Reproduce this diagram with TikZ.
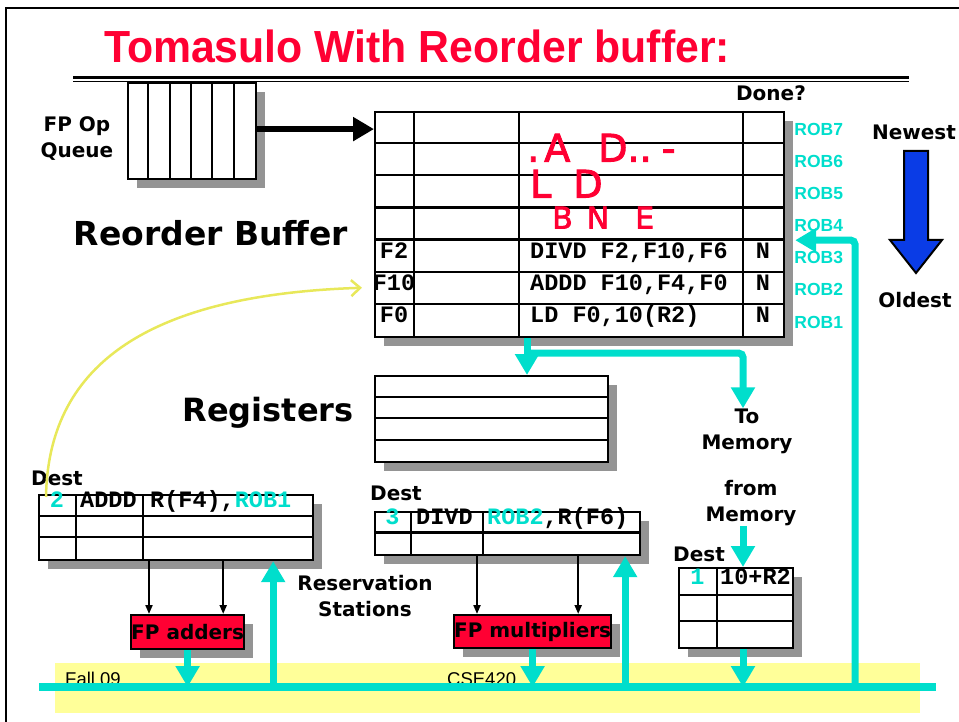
\documentclass[tikz,border=0pt]{standalone}
\usepackage{fontspec}
\setmainfont{DejaVu Sans}
\newfontfamily\codefont{Liberation Mono}
\newfontfamily\arialfont{Liberation Sans}
\newfontfamily\penfont{DejaVu Sans}[FakeBold=2.5]
\usetikzlibrary{arrows.meta,calc,shadows}
\definecolor{SlideRed}{RGB}{255,0,51}
\definecolor{BusCyan}{RGB}{0,222,204}
\definecolor{ShadowGrey}{RGB}{148,148,148}
\definecolor{FooterYellow}{RGB}{255,255,153}
\definecolor{CurveYellow}{RGB}{232,232,90}
\definecolor{OrderBlue}{RGB}{10,60,230}

\begin{document}
\begin{tikzpicture}[x=1pt, y=-1pt, every node/.style={inner sep=0pt},
  comic/.style={font=\fontsize{20}{26}\selectfont\bfseries, align=center},
  bigcomic/.style={font=\fontsize{32}{38}\selectfont\bfseries, anchor=base},
  mono/.style={font=\fontsize{23.5}{28}\selectfont\codefont\bfseries, text height=0.57em, text depth=0pt},
  robtag/.style={font=\fontsize{17.5}{20}\selectfont\arialfont\bfseries, text=BusCyan, anchor=west},
  scrawl/.style={font=\fontsize{38}{40}\selectfont\penfont, text=SlideRed, anchor=west,
    text height=0.72em, text depth=0pt},
  footer/.style={font=\fontsize{18.5}{20}\selectfont\arialfont, anchor=base west},
  tbl/.style={draw, line width=2.2pt, fill=white, anchor=north west,
    drop shadow={shadow xshift=9pt, shadow yshift=-9pt, fill=ShadowGrey, opacity=1}},
  fubox/.style={tbl, fill=SlideRed, font=\fontsize{20}{24}\selectfont\bfseries},
  cellrule/.style={line width=2.2pt},
  buswire/.style={BusCyan, line width=8pt},
  cyanarrow/.style={BusCyan, line width=7pt, -{Triangle[width=23pt,length=21pt]}},
  fuarrow/.style={line width=2pt, -{Triangle[width=7pt,length=9pt]}}]
  \useasboundingbox (0,0) rectangle (959,722);

  \fill[FooterYellow] (55,663) rectangle (920,713);
  \node[footer] (term) at (65,685) {Fall 09};
  \node[footer] (course) at (447,685) {CSE420};
  \draw[line width=2pt] (6,722) -- (6,8) -- (959,8);

  \node[font=\fontsize{45}{50}\selectfont\arialfont\bfseries, text=SlideRed] (title) at (417,46)
    {\scalebox{0.95}[1]{Tomasulo With Reorder buffer:}};
  \draw[line width=3pt] (73,77.5) -- (909,77.5);
  \draw[line width=1.2pt] (73,81.5) -- (909,81.5);

  \node[tbl, minimum width=128pt, minimum height=96pt] (queue) at (127,82) {};
  \foreach \k in {1,...,5}
    \draw[cellrule] ($(queue.north west)+(\k*21.33,0)$) -- ++(0,96);
  \node[comic] (queuelabel) at (77,139) {FP Op\\Queue};

  \node[tbl, minimum width=409pt, minimum height=225pt] (rob) at (374,111) {};
  \foreach \r in {1,...,6}
    \draw[cellrule] ($(rob.north west)+(0,\r*32.14)$) -- ++(409,0);
  \foreach \c in {40,145,369}
    \draw[cellrule] ($(rob.north west)+(\c,0)$) -- ++(0,225);
  \node[comic, anchor=base] (done) at (771,101) {Done?};
  \foreach \n [count=\i] in {7,6,5,4,3,2,1}
    \node[robtag] (rob\n) at ($(rob.north east)+(9,\i*32.14-14)$) {ROB\n};
  \foreach \d/\ins/\r in {F2/{DIVD F2,F10,F6}/5, F10/{ADDD F10,F4,F0}/6, F0/{LD F0,10(R2)}/7} {
    \node[mono] (d\d) at ($(rob.north west)+(20,\r*32.14-16.07)$) {\d};
    \node[mono, anchor=west] (i\d) at ($(rob.north west)+(156,\r*32.14-16.07)$) {\ins};
    \node[mono] (n\d) at ($(rob.north west)+(389,\r*32.14-16.07)$) {N};
  }
  \node[scrawl] (scrawlA) at (527,158) {.\kern5pt A\kern28pt D..\kern10pt-};
  \node[scrawl] (scrawlB) at (530,194) {L\kern22pt D};
  \node[scrawl, font=\fontsize{30}{32}\selectfont\penfont] (scrawlC) at (552,225) {B\kern14pt N\kern26pt E};

  \draw[line width=6.5pt, -{Triangle[width=23pt,length=21pt]}] ([yshift=2pt]queue.east) -- ([yshift=2pt]queue.east -| rob.west);

  \node[comic, anchor=base] (newest) at (914,140) {Newest};
  \node[comic, anchor=base] (oldest) at (915,307) {Oldest};
  \draw[line width=2pt, fill=OrderBlue] (904,151) -- (928,151) -- (928,240) -- (942,240)
    -- (916,273) -- (890,240) -- (904,240) -- cycle;

  \node[bigcomic, font=\fontsize{33}{38}\selectfont\bfseries] (roblabel) at (211,246) {Reorder Buffer};
  \node[bigcomic] (reglabel) at (268,421) {Registers};

  \node[tbl, line width=2pt, minimum width=233pt, minimum height=86pt] (regs) at (374,375) {};
  \foreach \r in {1,2,3}
    \draw[line width=2pt] ($(regs.north west)+(0,\r*21.5)$) -- ++(233,0);

  \node[tbl, minimum width=274pt, minimum height=65pt] (addrs) at (38,494) {};
  \foreach \r in {21.67,43.33}
    \draw[cellrule] ($(addrs.north west)+(0,\r)$) -- ++(274,0);
  \foreach \c in {38,105}
    \draw[cellrule] ($(addrs.north west)+(\c,0)$) -- ++(0,65);
  \node[comic, anchor=base] (adddest) at (57,485) {Dest};
  \node[mono, text=BusCyan] (addtag) at (57,505) {2};
  \node[mono, anchor=west] (addop) at (80,505) {ADDD};
  \node[mono, anchor=west] (addsrc) at (150,505) {R(F4),\textcolor{BusCyan}{ROB1}};

  \node[tbl, minimum width=265pt, minimum height=43pt] (mulrs) at (374,511) {};
  \draw[cellrule] ($(mulrs.north west)+(0,21.5)$) -- ++(265,0);
  \foreach \c in {37,109}
    \draw[cellrule] ($(mulrs.north west)+(\c,0)$) -- ++(0,43);
  \node[comic, anchor=base] (muldest) at (396,500) {Dest};
  \node[mono, text=BusCyan] (multag) at (392.5,522) {3};
  \node[mono, anchor=west] (mulop) at (416,522) {DIVD};
  \node[mono, anchor=west] (mulsrc) at (487,522) {\textcolor{BusCyan}{ROB2},R(F6)};

  \node[tbl, minimum width=114pt, minimum height=80pt] (ldbuf) at (678,567) {};
  \foreach \r in {28,54}
    \draw[cellrule] ($(ldbuf.north west)+(0,\r)$) -- ++(114,0);
  \draw[cellrule] ($(ldbuf.north west)+(39,0)$) -- ++(0,80);
  \node[comic, anchor=base] (lddest) at (699,561) {Dest};
  \node[mono, text=BusCyan] (ldtag) at (697.5,582) {1};
  \node[mono, anchor=west] (ldaddr) at (720,582) {10+R2};

  \node[fubox, minimum width=113pt, minimum height=34pt] (fpadd) at (130,614) {FP adders};
  \node[fubox, minimum width=154pt, minimum height=33pt] (fpmul) at (453,614) {FP multipliers};
  \node[comic] (rslabel) at (365,596) {Reservation\\Stations};
  \node[comic] (tomem) at (747,431) {To\\Memory};
  \node[comic] (frommem) at (751,503) {from\\Memory};

  \coordinate (addinA) at ($(fpadd.north west)+(19,0)$);
  \coordinate (addinB) at ($(fpadd.north east)+(-22,0)$);
  \coordinate (mulinA) at ($(fpmul.north west)+(24,0)$);
  \coordinate (mulinB) at ($(fpmul.north east)+(-34,0)$);
  \foreach \p/\q in {addinA/addrs,addinB/addrs,mulinA/mulrs,mulinB/mulrs}
    \draw[fuarrow] (\p |- \q.south) -- (\p);

  \coordinate (busL) at (39,687);
  \coordinate (busR) at (936,687);
  \coordinate (cdbtap) at (855,687);
  \coordinate (robout) at ($(rob.south west)+(153,0)$);
  \coordinate (robin) at ($(rob.south east)+(10,-98)$);
  \coordinate (memtap) at ([xshift=-8pt]frommem.south);
  \coordinate (addfeed) at ($(addrs.south east)+(-41,0)$);
  \coordinate (mulfeed) at ($(mulrs.south east)+(-16,0)$);

  \draw[buswire] (busL) -- (busR);
  \draw[cyanarrow] (robout) -- (robout |- regs.north);
  \draw[cyanarrow, rounded corners=4pt] ($(robout)+(0,15)$) -| ([xshift=-4pt]tomem.north);
  \draw[cyanarrow] (memtap) -- (memtap |- ldbuf.north);
  \draw[cyanarrow] (memtap |- ldbuf.south) -- (memtap |- busL);
  \draw[cyanarrow] (fpadd.south) -- (fpadd.south |- busL);
  \draw[cyanarrow] (fpmul.south) -- (fpmul.south |- busL);
  \draw[cyanarrow] (addfeed |- busL) -- (addfeed);
  \draw[cyanarrow] (mulfeed |- busL) -- (mulfeed);
  \draw[cyanarrow, rounded corners=4pt] (cdbtap) |- (robin);

  \coordinate (robtagF10) at ($(rob.west |- dF10)+(-12,0)$);
  \draw[CurveYellow, line width=2.5pt, -{Straight Barb[length=9pt,width=16pt]}]
    ($(addrs.north west)+(8,3)$) .. controls (48,370) and (140,295) .. (robtagF10);
\end{tikzpicture}
\end{document}
